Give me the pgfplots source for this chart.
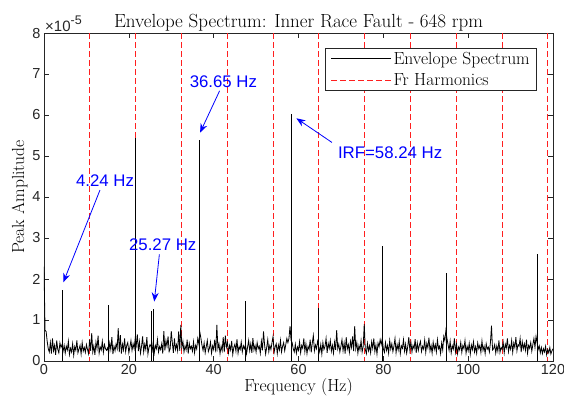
\documentclass[border=0pt]{standalone}
\usepackage{fontspec}
\setsansfont{Liberation Sans}
\usepackage{pgfplots}
\pgfplotsset{compat=1.18}
\usetikzlibrary{arrows.meta}

\definecolor{axgray}{rgb}{0.15,0.15,0.15}
\definecolor{mred}{rgb}{1,0.12,0.12}
\definecolor{mblue}{rgb}{0,0,1}

\pgfplotsset{harm/.style={color=mred, line width=0.9pt, dash pattern=on 6pt off 3pt}}

\begin{document}
\begin{tikzpicture}[x=1pt,y=1pt]
\useasboundingbox (-44,-44) rectangle (520,361);
\begin{axis}[
    at={(0,0)}, anchor=south west,
    scale only axis,
    width=509pt, height=328pt,
    xmin=0, xmax=120, ymin=0, ymax=8,
    xtick={0,20,...,120},
    ytick={0,1,...,8},
    tick align=inside,
    major tick length=5pt,
    axis line style={axgray, line width=0.6pt},
    every tick/.style={axgray, line width=0.6pt},
    ticklabel style={font=\sffamily\fontsize{14.5}{16}\selectfont, text=axgray},
    /pgf/number format/assume math mode=true,
    title={Envelope Spectrum: Inner Race Fault - 648 rpm},
    title style={font=\fontsize{19}{22}\selectfont, yshift=-8pt},
    xlabel={Frequency (Hz)},
    ylabel={Peak Amplitude},
    label style={font=\fontsize{17.5}{20}\selectfont},
    xlabel style={yshift=3pt},
    ylabel style={yshift=-2pt},
    legend style={
        at={(1,1)}, anchor=north east,
        xshift=-16pt, yshift=-15pt,
        draw=axgray, line width=0.6pt,
        font=\fontsize{17.5}{20}\selectfont,
        inner xsep=5pt, inner ysep=1.5pt,
        row sep=4pt
    },
    legend image code/.code={\draw[#1] (0pt,0pt) -- (60pt,0pt);},
    legend cell align=left,
    clip mode=individual
]
% shaft frequency harmonics, Fr = 10.8 Hz
\addplot[harm, forget plot] coordinates {(10.8,8) (10.8,0)};
\addplot[harm, forget plot] coordinates {(21.6,8) (21.6,0)};
\addplot[harm, forget plot] coordinates {(32.4,8) (32.4,0)};
\addplot[harm, forget plot] coordinates {(43.2,8) (43.2,0)};
\addplot[harm, forget plot] coordinates {(54.0,8) (54.0,0)};
\addplot[harm, forget plot] coordinates {(64.8,8) (64.8,0)};
\addplot[harm, forget plot] coordinates {(75.6,8) (75.6,0)};
\addplot[harm, forget plot] coordinates {(86.4,8) (86.4,0)};
\addplot[harm, forget plot] coordinates {(97.2,8) (97.2,0)};
\addplot[harm, forget plot] coordinates {(108.0,8) (108.0,0)};
\addplot[harm, forget plot] coordinates {(118.8,8) (118.8,0)};

% envelope spectrum, sampled every 0.25 Hz (units of 1e-5)
\addplot[black, line width=0.8pt] table[row sep=\\, header=false, x expr=\coordindex*0.25, y index=0] {
2.30\\0.75\\0.72\\0.48\\0.30\\0.22\\0.45\\0.18\\0.55\\0.25\\0.38\\0.15\\0.50\\0.28\\0.20\\0.44\\0.33\\0.40\\0.24\\0.38\\
0.19\\0.36\\0.27\\0.48\\0.16\\0.31\\0.22\\0.42\\0.14\\0.35\\0.26\\0.50\\0.20\\0.29\\0.38\\0.17\\0.45\\0.24\\0.33\\0.21\\
0.40\\0.28\\0.18\\0.52\\0.25\\0.68\\0.22\\0.37\\0.15\\0.46\\0.30\\0.62\\0.19\\0.34\\0.27\\0.48\\0.21\\0.40\\0.30\\0.26\\
0.32\\0.20\\0.44\\0.28\\0.58\\0.17\\0.36\\0.25\\0.42\\0.30\\0.80\\0.22\\0.63\\0.18\\0.41\\0.27\\0.55\\0.23\\0.38\\0.45\\
0.20\\0.34\\0.50\\0.26\\0.42\\0.30\\0.55\\0.38\\0.65\\0.24\\0.47\\0.19\\0.36\\0.60\\0.22\\0.41\\0.28\\0.58\\0.17\\0.33\\
0.40\\0.35\\0.25\\0.46\\0.20\\0.38\\0.30\\0.52\\0.22\\0.35\\0.28\\0.42\\0.18\\0.73\\0.26\\0.50\\0.36\\0.60\\0.23\\0.30\\
0.73\\0.45\\0.20\\0.55\\0.28\\0.40\\0.25\\0.72\\0.25\\0.88\\0.33\\0.48\\0.22\\0.37\\0.27\\0.52\\0.18\\0.43\\0.30\\0.36\\
0.24\\0.47\\0.20\\0.38\\0.29\\0.55\\0.42\\0.70\\0.55\\0.38\\0.26\\0.44\\0.20\\0.35\\0.50\\0.23\\0.31\\0.46\\0.19\\0.37\\
0.28\\0.52\\0.21\\0.88\\0.30\\0.42\\0.18\\0.36\\0.25\\0.58\\0.22\\0.62\\0.34\\0.45\\0.20\\0.38\\0.27\\0.49\\0.16\\0.33\\
0.41\\0.24\\0.53\\0.19\\0.35\\0.28\\0.46\\0.22\\0.37\\0.30\\0.40\\0.18\\0.34\\0.50\\0.25\\0.42\\0.20\\0.56\\0.27\\0.38\\
0.22\\0.45\\0.30\\0.36\\0.19\\0.48\\0.26\\0.72\\0.40\\0.17\\0.33\\0.52\\0.23\\0.38\\0.28\\0.45\\0.60\\0.21\\0.35\\0.42\\
0.18\\0.39\\0.27\\0.50\\0.22\\0.36\\0.45\\0.25\\0.40\\0.55\\0.45\\0.55\\0.85\\0.50\\0.45\\0.30\\0.22\\0.41\\0.19\\0.34\\
0.26\\0.47\\0.20\\0.38\\0.31\\0.55\\0.23\\0.42\\0.18\\0.36\\0.28\\0.52\\0.21\\0.44\\0.62\\0.25\\0.39\\0.30\\0.48\\0.35\\
0.22\\0.40\\0.17\\0.45\\0.28\\0.36\\0.55\\0.20\\0.43\\0.31\\0.50\\0.24\\0.38\\0.19\\0.46\\0.27\\0.75\\0.30\\0.41\\0.22\\
0.36\\0.52\\0.25\\0.44\\0.18\\0.58\\0.29\\0.40\\0.21\\0.48\\0.33\\0.60\\0.24\\0.85\\0.30\\0.45\\0.19\\0.38\\0.27\\0.50\\
0.22\\0.35\\0.90\\0.28\\0.18\\0.43\\0.25\\0.37\\0.20\\0.47\\0.31\\0.55\\0.23\\0.39\\0.17\\0.44\\0.35\\0.52\\0.40\\0.55\\
0.30\\0.21\\0.45\\0.26\\0.38\\0.19\\0.50\\0.29\\0.42\\0.23\\0.36\\0.55\\0.20\\0.40\\0.27\\0.48\\0.18\\0.37\\0.31\\0.52\\
0.24\\0.41\\0.19\\0.35\\0.58\\0.27\\0.46\\0.22\\0.38\\0.30\\0.53\\0.20\\0.44\\0.26\\0.39\\0.48\\0.23\\0.36\\0.29\\0.51\\
0.21\\0.43\\0.32\\0.57\\0.25\\0.38\\0.19\\0.46\\0.28\\0.40\\0.22\\0.52\\0.30\\0.36\\0.18\\0.44\\0.27\\0.60\\0.50\\0.75\\
0.55\\0.40\\0.26\\0.48\\0.20\\0.37\\0.29\\0.55\\0.22\\0.41\\0.18\\0.34\\0.27\\0.45\\0.21\\0.38\\0.30\\0.50\\0.19\\0.36\\
0.25\\0.43\\0.17\\0.39\\0.28\\0.47\\0.22\\0.35\\0.19\\0.44\\0.30\\0.38\\0.21\\0.49\\0.26\\0.36\\0.18\\0.42\\0.29\\0.34\\
0.22\\0.45\\0.86\\0.27\\0.30\\0.40\\0.19\\0.37\\0.24\\0.50\\0.21\\0.33\\0.28\\0.46\\0.20\\0.41\\0.32\\0.55\\0.23\\0.38\\
0.29\\0.50\\0.21\\0.44\\0.33\\0.58\\0.25\\0.40\\0.36\\0.55\\0.22\\0.47\\0.30\\0.42\\0.26\\0.52\\0.19\\0.38\\0.31\\0.45\\
0.24\\0.40\\0.55\\0.33\\0.60\\0.45\\0.28\\0.37\\0.20\\0.33\\0.18\\0.30\\0.22\\0.36\\0.15\\0.28\\0.20\\0.33\\0.17\\0.25\\0.30\\
};
\addlegendentry{Envelope Spectrum}
\addlegendimage{harm}
\addlegendentry{Fr Harmonics}

% spectral peaks
\addplot[black, line width=0.8pt, forget plot, unbounded coords=jump] coordinates {
    (4.25,0) (4.25,1.72) (nan,nan)
    (15.1,0) (15.1,1.37) (nan,nan)
    (21.6,0) (21.6,5.43) (nan,nan)
    (25.35,0) (25.35,1.23) (nan,nan)
    (25.85,0) (25.85,1.28) (nan,nan)
    (36.65,0) (36.65,5.40) (nan,nan)
    (47.45,0) (47.45,1.47) (nan,nan)
    (58.24,0) (58.24,6.03) (nan,nan)
    (64.8,0) (64.8,1.30) (nan,nan)
    (79.85,0) (79.85,2.80) (nan,nan)
    (94.9,0) (94.9,2.15) (nan,nan)
    (116.35,0) (116.35,2.62)
};

% annotations
\begin{scope}[mblue, line width=0.8pt, font=\sffamily\fontsize{16.8}{19}\selectfont]
\draw[-{Stealth[length=9pt,width=7pt]}] (axis cs:13.2,4.17) -- (axis cs:4.56,1.92);
\node at (axis cs:14.4,4.41) {4.24 Hz};
\draw[-{Stealth[length=9pt,width=7pt]}] (axis cs:27.2,2.60) -- (axis cs:26.0,1.45);
\node at (axis cs:28.0,2.84) {25.27 Hz};
\draw[-{Stealth[length=9pt,width=7pt]}] (axis cs:41.4,6.59) -- (axis cs:36.8,5.57);
\node at (axis cs:42.3,6.81) {36.65 Hz};
\draw[-{Stealth[length=9pt,width=7pt]}] (axis cs:67.9,5.33) -- (axis cs:59.5,5.92);
\node at (axis cs:81.6,5.07) {IRF=58.24 Hz};
\end{scope}

\node[anchor=base west, inner sep=0pt, text=axgray, font=\sffamily\fontsize{15}{16}\selectfont]
    at (rel axis cs:0,1) [xshift=1pt, yshift=2pt] {×10\raisebox{6.5pt}{\fontsize{12.5}{13}\selectfont -5}};
\end{axis}
\end{tikzpicture}
\end{document}
